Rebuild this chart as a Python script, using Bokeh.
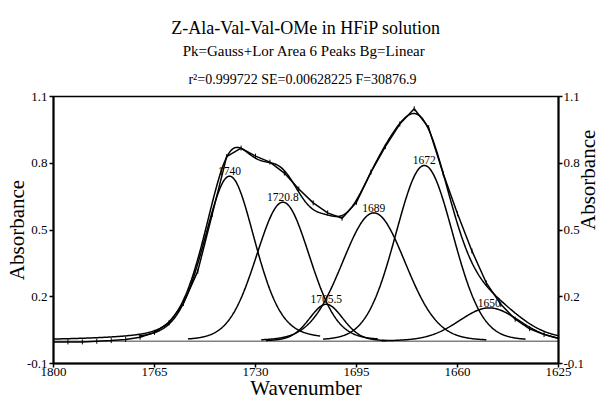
import numpy as np
from bokeh.plotting import figure
from bokeh.models import Range1d, LinearAxis, FixedTicker, Title
from bokeh.core.properties import value
from bokeh.embed import file_html
from bokeh.resources import INLINE

wavenumber = [1800, 1795, 1790, 1785, 1780, 1775, 1770, 1765, 1760, 1755,
              1750, 1745, 1740, 1735, 1730, 1725, 1720, 1715, 1710, 1705,
              1700, 1695, 1690, 1685, 1680, 1675, 1670, 1665, 1660, 1655,
              1650, 1645, 1640, 1635, 1630, 1625]
absorbance = [-0.003, -0.003, -0.003, 0.000, 0.003, 0.008, 0.018, 0.040, 0.082, 0.170,
              0.315, 0.570, 0.830, 0.868, 0.832, 0.805, 0.756, 0.684, 0.622, 0.577,
              0.553, 0.625, 0.760, 0.875, 0.976, 1.045, 0.960, 0.755, 0.573, 0.406,
              0.262, 0.166, 0.099, 0.056, 0.030, 0.012]

# ---- fitted peaks (Gauss+Lor) ----
peak_labels = ["1740", "1720.8", "1705.5", "1689", "1672", "1650"]
peak_centers = [1739.0, 1720.5, 1705.5, 1689.0, 1671.5, 1649.0]
peak_heights = [0.742, 0.625, 0.166, 0.577, 0.790, 0.150]
peak_fwhm = [21.0, 22.0, 14.0, 26.0, 23.5, 25.0]
peak_lor_frac = [0.30, 0.15, 0.20, 0.10, 0.10, 0.15]

# linear background (Bg=Linear) at the two ends of the range
baseline_x = [1800, 1625]
baseline_y = [0.0, 0.0]

x_ticks = [1800, 1765, 1730, 1695, 1660, 1625]
y_ticks = [-0.1, 0.2, 0.5, 0.8, 1.1]
y_tick_labels = ["-0.1", "0.2", "0.5", "0.8", "1.1"]

title_lines = ["Z-Ala-Val-Val-OMe in HFiP solution",
               "Pk=Gauss+Lor Area 6 Peaks  Bg=Linear",
               "r\u00b2=0.999722  SE=0.00628225  F=30876.9"]
y_title = "Absorbance"
x_title = "Wavenumber"

FONT = "Liberation Serif"


def background(x):
    return np.interp(x, baseline_x[::-1], baseline_y[::-1])


def peak(x, c, h, w, eta):
    d2 = (np.asarray(x) - c) ** 2
    g = np.exp(-4 * np.log(2) * d2 / w ** 2)
    lor = 1.0 / (1.0 + 4 * d2 / w ** 2)
    return h * ((1 - eta) * g + eta * lor)


p = figure(width=615, height=403,
           x_range=Range1d(baseline_x[0], baseline_x[1]),
           y_range=Range1d(y_ticks[0], y_ticks[-1]),
           output_backend="svg", toolbar_location=None, title=None,
           min_border_left=53, min_border_right=44,
           min_border_top=96, min_border_bottom=40)

p.xgrid.visible = False
p.ygrid.visible = False
p.outline_line_color = "black"
p.outline_line_width = 1.5
p.background_fill_color = "white"
p.border_fill_color = "white"

# fine grid for the model curves
xs = np.linspace(baseline_x[0], baseline_x[1], 876)

# components
for c, h, w, eta in zip(peak_centers, peak_heights, peak_fwhm, peak_lor_frac):
    m = (xs <= c + 1.5 * w) & (xs >= c - 1.5 * w)
    xc = xs[m]
    p.line(xc, background(xc) + peak(xc, c, h, w, eta), line_color="black", line_width=1.5)

# fitted sum
fit = background(xs).copy()
for c, h, w, eta in zip(peak_centers, peak_heights, peak_fwhm, peak_lor_frac):
    fit = fit + peak(xs, c, h, w, eta)
p.line(xs, fit, line_color="black", line_width=1.5)

# baseline (dotted)
p.line(baseline_x, baseline_y, line_color="black", line_width=1.5, line_dash="1 1")

# measured data
p.line(wavenumber, absorbance, line_color="black", line_width=1.5)
p.scatter(wavenumber, absorbance, marker="dash", angle=np.pi / 2, size=5,
          line_color="black", line_width=1)

# peak labels
label_y = [background(c) + h for c, h in zip(peak_centers, peak_heights)]
p.text(x=peak_centers, y=label_y, text=peak_labels, text_align="center",
       text_baseline="bottom", y_offset=-1, text_color="black",
       text_font=value(FONT), text_font_size="11.5px")

# axes
right = LinearAxis()
p.add_layout(right, "right")

for ax in [p.xaxis[0], p.yaxis[0], right]:
    ax.axis_line_width = 2
    ax.axis_line_color = "black"
    ax.major_tick_line_color = "black"
    ax.major_tick_line_width = 1.5
    ax.major_tick_out = 4
    ax.major_tick_in = 0
    ax.minor_tick_line_color = None
    ax.major_label_text_font = FONT
    ax.major_label_text_font_size = "13px"
    ax.major_label_text_color = "black"
    ax.axis_label_text_font = FONT
    ax.axis_label_text_font_size = "21px"
    ax.axis_label_text_font_style = "normal"
    ax.axis_label_text_color = "black"
    ax.major_label_standoff = 2

p.xaxis.ticker = FixedTicker(ticks=x_ticks)
p.xaxis.major_label_overrides = {t: str(t) for t in x_ticks}
p.xaxis.axis_label = x_title
p.xaxis.major_label_standoff = 0
p.xaxis.axis_label_standoff = -3

for ax in [p.yaxis[0], right]:
    ax.ticker = FixedTicker(ticks=y_ticks)
    ax.major_label_overrides = dict(zip(y_ticks, y_tick_labels))
    ax.axis_label = y_title
p.yaxis[0].axis_label_standoff = -5

# right-hand axis title reads bottom to top, like the left one
right.major_label_standoff = 1
right.axis_label_standoff = 1
try:
    right.axis_label_orientation = np.pi / 2
except Exception:
    pass

# titles (added inner first)
sizes = ["18px", "15px", "14px"]
standoffs = [6, 1, 20]
for txt, sz, so in reversed(list(zip(title_lines, sizes, standoffs))):
    p.add_layout(Title(text=txt, align="center", text_font=FONT, text_font_size=sz,
                       text_font_style="normal", text_color="black", standoff=so), "above")

open("out.html", "w").write(file_html(p, INLINE))
